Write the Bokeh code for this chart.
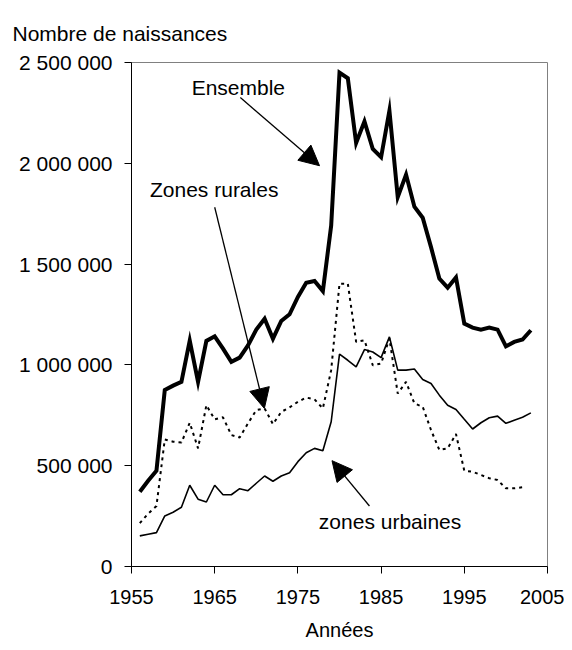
from bokeh.plotting import figure
from bokeh.models import FixedTicker, Arrow, NormalHead, Label, Range1d, Title
from bokeh.embed import file_html
from bokeh.resources import INLINE

# ---- data ----
years_total = list(range(1956, 2004))
ensemble = [371000, 425000, 475000, 875000, 897000, 916000, 1120000, 916000, 1119000, 1142000,
            1081000, 1015000, 1036000, 1097000, 1175000, 1229000, 1130000, 1218000, 1251000, 1337000,
            1407000, 1416000, 1366000, 1691000, 2450000, 2422000, 2101000, 2208000, 2071000, 2030000,
            2261000, 1832000, 1944000, 1785000, 1730000, 1584000, 1428000, 1383000, 1434000, 1205000,
            1185000, 1175000, 1185000, 1175000, 1092000, 1114000, 1126000, 1172000]

years_urban = list(range(1956, 2004))
urbaines = [152000, 160000, 168000, 251000, 269000, 294000, 403000, 334000, 320000, 403000,
            356000, 356000, 386000, 376000, 413000, 449000, 423000, 449000, 465000, 520000,
            564000, 586000, 574000, 718000, 1053000, 1023000, 990000, 1076000, 1064000, 1036000,
            1139000, 974000, 974000, 980000, 928000, 908000, 850000, 800000, 779000, 730000,
            682000, 713000, 738000, 746000, 710000, 726000, 740000, 762000]

years_rural = list(range(1956, 2003))
rurales = [215000, 262000, 300000, 630000, 619000, 615000, 713000, 586000, 800000, 730000,
           740000, 652000, 640000, 710000, 776000, 784000, 706000, 767000, 789000, 817000,
           838000, 829000, 784000, 974000, 1403000, 1403000, 1114000, 1122000, 998000, 1007000,
           1131000, 858000, 916000, 809000, 792000, 677000, 578000, 586000, 657000, 475000,
           470000, 454000, 438000, 429000, 388000, 388000, 393000]

x_ticks = [1955, 1965, 1975, 1985, 1995, 2005]
y_ticks = [0, 500000, 1000000, 1500000, 2000000, 2500000]
y_tick_labels = ["0", "500 000", "1 000 000", "1 500 000", "2 000 000", "2 500 000"]

title_text = "Nombre de naissances"
x_title = "Années"
label_ensemble = "Ensemble"
label_rural = "Zones rurales"
label_urban = "zones urbaines"

FONT = "Liberation Sans"

p = figure(width=564, height=650,
           x_range=Range1d(1955, 2005), y_range=Range1d(0, 2500000),
           output_backend="svg", toolbar_location=None,
           min_border_left=131, min_border_right=17,
           min_border_top=62, min_border_bottom=83)
p.xgrid.visible = False
p.ygrid.visible = False
p.outline_line_color = "#808080"
p.outline_line_width = 1
p.background_fill_color = "white"
p.border_fill_color = "white"

for ax in (p.xaxis[0], p.yaxis[0]):
    ax.axis_line_color = "black"
    ax.axis_line_width = 1
    ax.major_tick_line_color = "black"
    ax.major_tick_in = 0
    ax.major_tick_out = 7
    ax.minor_tick_line_color = None
    ax.major_label_text_font = FONT
    ax.major_label_text_color = "black"

p.xaxis.ticker = FixedTicker(ticks=x_ticks)
p.xaxis.major_label_text_font_size = "20px"
p.xaxis.major_label_standoff = 16

p.yaxis.ticker = FixedTicker(ticks=y_ticks)
p.yaxis.major_label_overrides = {t: l for t, l in zip(y_ticks, y_tick_labels)}
p.yaxis.major_label_text_font_size = "21px"
p.yaxis.major_label_standoff = 12

# titles outside the frame
p.add_layout(Title(text=title_text, align="left", offset=-119, standoff=36,
                   text_font=FONT, text_font_size="21px", text_font_style="normal",
                   text_color="black"), "above")
p.add_layout(Title(text=x_title, align="center", offset=-32, standoff=20,
                   text_font=FONT, text_font_size="20px", text_font_style="normal",
                   text_color="black"), "below")

# series
p.line(years_rural, rurales, line_color="black", line_width=2, line_dash="3 4")
p.line(years_urban, urbaines, line_color="black", line_width=1.6)
p.line(years_total, ensemble, line_color="black", line_width=4, line_join="miter")

# annotation texts
def add_label(x, y, text, size="21px"):
    p.add_layout(Label(x=x, y=y, text=text, text_align="center", text_baseline="middle",
                       text_font=FONT, text_font_size=size, text_color="black"))

add_label(1967.84, 2374500, label_ensemble)
add_label(1964.94, 1869600, label_rural)
add_label(1986.08, 221300, label_urban)

# arrows
def add_arrow(xs, ys, xe, ye):
    p.add_layout(Arrow(end=NormalHead(size=20, fill_color="black", line_color="black"),
                       x_start=xs, y_start=ys, x_end=xe, y_end=ye,
                       line_color="black", line_width=1.3))

add_arrow(1968.08, 2326000, 1977.6, 1988000)
add_arrow(1965.0, 1782000, 1970.97, 784000)
add_arrow(1983.6, 300000, 1979.1, 525000)

open("out.html", "w").write(file_html(p, INLINE))
